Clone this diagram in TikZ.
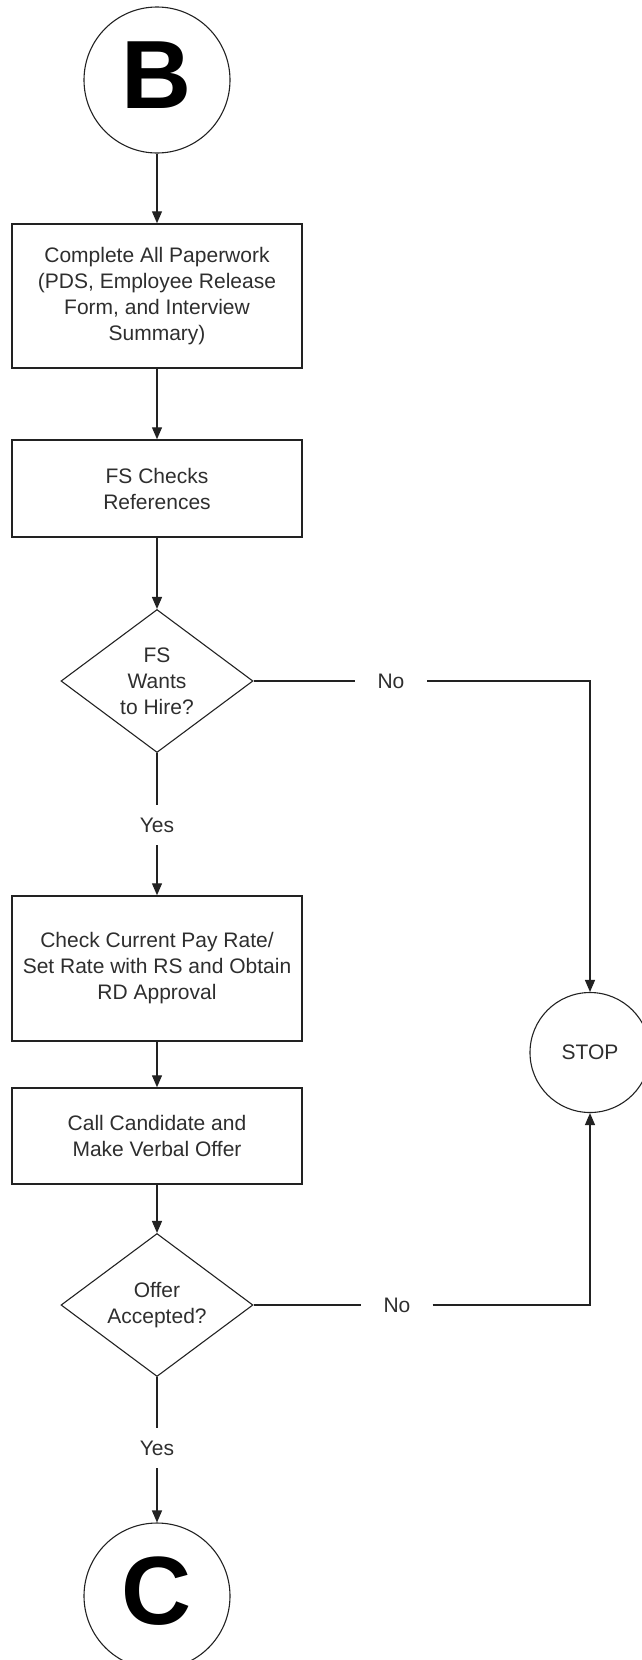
\documentclass[tikz,border=0pt]{standalone}
\usepackage{fontspec}
\setmainfont{Liberation Sans}
\usetikzlibrary{shapes.geometric,arrows.meta}
\definecolor{ink}{HTML}{222222}
\definecolor{txt}{HTML}{2E2E2E}
\begin{document}
\begin{tikzpicture}[x=1pt,y=-1pt,
  every node/.style={text=txt},
  base/.style={font=\fontsize{21}{26}\selectfont},
  procbox/.style={base,draw=ink,line width=1.5pt,rectangle,minimum width=290pt,align=center,inner sep=0pt},
  decision/.style={base,draw=ink,line width=1.1pt,diamond,aspect=1.34,minimum width=192pt,minimum height=143pt,inner sep=0pt,align=center},
  connector/.style={draw=ink,line width=1.1pt,circle,inner sep=0pt,text=black,font=\fontsize{97}{97}\selectfont\bfseries,text height=69pt,text depth=12pt},
  stopnode/.style={base,draw=ink,line width=1.1pt,circle,minimum size=120pt,inner sep=0pt},
  lbl/.style={base,inner sep=0pt,text height=15pt,text depth=0pt},
  flow/.style={draw=ink,line width=1.3pt,-{Triangle[length=12pt,width=10pt]}},
  plain/.style={draw=ink,line width=1.3pt}
]
\useasboundingbox (0,0) rectangle (641,1660);

\node[connector,minimum size=146pt] (B) at (157,80) {B};
\node[procbox,minimum height=144pt] (r1) at (157,296) {Complete All Paperwork\\(PDS, Employee Release\\Form, and Interview\\Summary)};
\node[procbox,minimum height=97pt] (r2) at (157,488.5) {FS Checks\\References};
\node[decision] (d1) at (157,681) {FS\\Wants\\to Hire?};
\node[lbl,minimum height=40pt] (yes1) at (157,825) {Yes};
\node[procbox,minimum height=145pt] (r3) at (157,968.5) {Check Current Pay Rate/\\Set Rate with RS and Obtain\\RD Approval};
\node[procbox,minimum height=96pt] (r4) at (157,1136) {Call Candidate and\\Make Verbal Offer};
\node[decision] (d2) at (157,1305) {Offer\\Accepted?};
\node[lbl,minimum height=40pt] (yes2) at (157,1448) {Yes};
\node[connector,minimum size=146pt] (C) at (157,1596) {C};

\node[stopnode] (stop) at (590,1052.5) {STOP};
\node[lbl,minimum width=72pt] (no1) at (391,681) {No};
\node[lbl,minimum width=71pt] (no2) at (397,1305) {No};

\draw[flow] (B) -- (r1);
\draw[flow] (r1) -- (r2);
\draw[flow] (r2) -- (d1);
\draw[plain] (d1.south) -- (yes1.north);
\draw[flow] (yes1.south) -- (r3.north);
\draw[flow] (r3) -- (r4);
\draw[flow] (r4) -- (d2);
\draw[plain] (d2.south) -- (yes2.north);
\draw[flow] (yes2.south) -- (C.north);

\draw[plain] (d1.east) -- (no1.west);
\draw[flow] (no1.east) -| (stop.north);
\draw[plain] (d2.east) -- (no2.west);
\draw[flow] (no2.east) -| (stop.south);
\end{tikzpicture}
\end{document}
